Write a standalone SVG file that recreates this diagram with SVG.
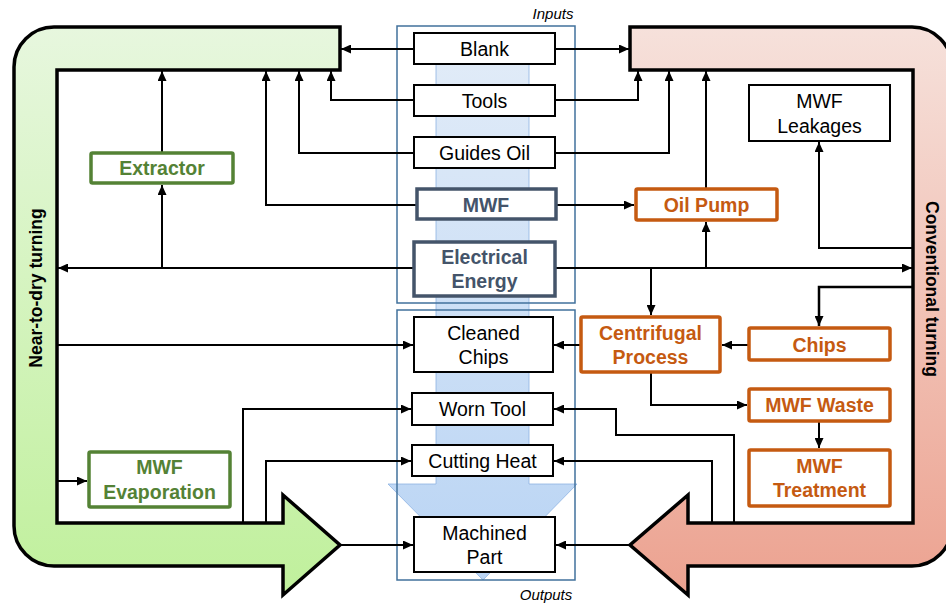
<svg xmlns="http://www.w3.org/2000/svg" width="946" height="603" viewBox="0 0 946 603">
<defs>
<linearGradient id="gG" x1="0" y1="0" x2="0" y2="1"><stop offset="0" stop-color="#e7f7de"/><stop offset="1" stop-color="#c0f09c"/></linearGradient>
<linearGradient id="gR" x1="0" y1="0" x2="0" y2="1"><stop offset="0" stop-color="#f6e1db"/><stop offset="1" stop-color="#eca290"/></linearGradient>
<linearGradient id="gB" x1="0" y1="0" x2="0" y2="1"><stop offset="0" stop-color="#e2ecf8"/><stop offset="1" stop-color="#b9d4f4"/></linearGradient>
<marker id="ah" viewBox="0 0 10 9" refX="10" refY="4.5" markerWidth="10" markerHeight="9" markerUnits="userSpaceOnUse" orient="auto"><path d="M0,0 L10,4.5 L0,9 z" fill="#000"/></marker>
<style>
.u{stroke:#000;stroke-width:3.5;stroke-linejoin:miter}
.bx{fill:#fff;stroke:#000;stroke-width:2}
.gb{fill:#fff;stroke:#548235;stroke-width:3.5}
.ob{fill:#fff;stroke:#c55a11;stroke-width:3.5}
.sb{fill:#fff;stroke:#44546a;stroke-width:3.5}
.t{font-family:"Liberation Sans",Arial,sans-serif;font-size:19.5px;text-anchor:middle;fill:#000}
.tb{font-family:"Liberation Sans",Arial,sans-serif;font-size:19.5px;font-weight:bold;text-anchor:middle}
.tg{fill:#548235}.to{fill:#c55a11}.ts{fill:#44546a}
.it{font-family:"Liberation Sans",Arial,sans-serif;font-size:15px;font-style:italic;text-anchor:middle;fill:#000}
.side{font-family:"Liberation Sans",Arial,sans-serif;font-size:17.5px;font-weight:bold;text-anchor:middle;fill:#000}
.c{fill:none;stroke:#000;stroke-width:2}
.ca{fill:none;stroke:#000;stroke-width:2;marker-end:url(#ah)}
.frame{fill:none;stroke:#41719c;stroke-width:1.5}
</style>
</defs>
<rect width="946" height="603" fill="#fff"/>

<g id="near-dry-turning">
<path class="u" fill="url(#gG)" d="M340,27 L54,27 A40,40 0 0 0 14,67 L14,526 A40,40 0 0 0 54,566 L283,566 L283,595 L340,545 L283,495 L283,523 L57,523 L57,70 L340,70 Z"/>
<text class="side" transform="translate(42,288) rotate(-90)">Near-to-dry turning</text>
</g>
<g id="conventional-turning">
<path class="u" fill="url(#gR)" d="M630,27 L912,27 A40,40 0 0 1 952,67 L952,526 A40,40 0 0 1 912,566 L688,566 L688,595 L630,545 L688,495 L688,523 L913,523 L913,70 L630,70 Z"/>
<text class="side" transform="translate(926,289) rotate(90)">Conventional turning</text>
</g>

<g id="flow-band">
<path d="M436,40 L529,40 L529,484 L577,484 L483,580 L388,484 L436,484 Z" fill="url(#gB)" stroke="#8db3e2" stroke-width="0.8"/>
<rect class="frame" x="397" y="26" width="178" height="277"/>
<rect class="frame" x="397" y="310" width="178" height="270"/>
<text class="it" x="553" y="19">Inputs</text>
<text class="it" x="546" y="600">Outputs</text>
</g>

<g id="connectors">
<path class="ca" d="M414,49 L341,49"/>
<path class="ca" d="M555,49 L629,49"/>
<path class="ca" d="M414,100 L331,100 L331,71"/>
<path class="ca" d="M555,100 L638,100 L638,71"/>
<path class="ca" d="M414,153 L299,153 L299,71"/>
<path class="ca" d="M555,153 L669,153 L669,71"/>
<path class="ca" d="M416,205 L266,205 L266,71"/>
<path class="ca" d="M557,205 L634,205"/>
<path class="ca" d="M706,188 L706,71"/>
<path class="ca" d="M413,268 L58,268"/>
<path class="ca" d="M162,268 L162,185"/>
<path class="ca" d="M162,152 L162,71"/>
<path class="ca" d="M556,268 L912,268"/>
<path class="ca" d="M706,268 L706,222"/>
<path class="ca" d="M651,268 L651,315"/>
<path class="ca" d="M913,248 L819,248 L819,142"/>
<path class="ca" style="stroke-width:2.5" d="M913,287 L819,287 L819,326"/>
<path class="ca" d="M748,345 L722,345"/>
<path class="ca" d="M580,345 L554,345"/>
<path class="ca" d="M651,373 L651,405 L747,405"/>
<path class="ca" d="M819,422 L819,448"/>
<path class="ca" d="M57,345 L413,345"/>
<path class="ca" d="M57,481 L87,481"/>
<path class="ca" d="M243,523 L243,409 L411,409"/>
<path class="ca" d="M266,523 L266,461 L411,461"/>
<path class="ca" d="M341,545 L413,545"/>
<path class="ca" d="M734,523 L734,435 L616,435 L616,409 L554,409"/>
<path class="ca" d="M712,523 L712,461 L554,461"/>
<path class="ca" d="M630,545 L556,545"/>
</g>

<g id="blank"><rect class="bx" x="414" y="33" width="141" height="31"/><text class="t" x="484.5" y="56">Blank</text></g>
<g id="tools"><rect class="bx" x="414" y="85" width="141" height="31"/><text class="t" x="484.5" y="108">Tools</text></g>
<g id="guides-oil"><rect class="bx" x="414" y="137" width="141" height="31"/><text class="t" x="484.5" y="160">Guides Oil</text></g>
<g id="mwf"><rect class="sb" x="417" y="189" width="139" height="30"/><text class="tb ts" x="486" y="212">MWF</text></g>
<g id="electrical-energy"><rect class="sb" x="414" y="242" width="141" height="54"/><text class="tb ts" x="484.5" y="264">Electrical</text><text class="tb ts" x="484.5" y="288">Energy</text></g>
<g id="cleaned-chips"><rect class="bx" x="414" y="317" width="139" height="55"/><text class="t" x="483.5" y="340">Cleaned</text><text class="t" x="483.5" y="364">Chips</text></g>
<g id="worn-tool"><rect class="bx" x="412" y="393" width="141" height="32"/><text class="t" x="482.5" y="416">Worn Tool</text></g>
<g id="cutting-heat"><rect class="bx" x="412" y="445" width="141" height="31"/><text class="t" x="482.5" y="468">Cutting Heat</text></g>
<g id="machined-part"><rect class="bx" x="414" y="517" width="141" height="55"/><text class="t" x="484.5" y="540">Machined</text><text class="t" x="484.5" y="564">Part</text></g>

<g id="extractor"><rect class="gb" x="91" y="153" width="142" height="30" rx="1.5"/><text class="tb tg" x="162" y="175">Extractor</text></g>
<g id="mwf-evaporation"><rect class="gb" x="89" y="452" width="141" height="55" rx="1.5"/><text class="tb tg" x="159.5" y="474">MWF</text><text class="tb tg" x="159.5" y="499">Evaporation</text></g>

<g id="oil-pump"><rect class="ob" x="636" y="189" width="141" height="31" rx="1.5"/><text class="tb to" x="706.5" y="212">Oil Pump</text></g>
<g id="mwf-leakages"><rect class="bx" x="749" y="85" width="141" height="56"/><text class="t" x="819.5" y="108">MWF</text><text class="t" x="819.5" y="133">Leakages</text></g>
<g id="centrifugal-process"><rect class="ob" x="581" y="317" width="139" height="55" rx="1.5"/><text class="tb to" x="650.5" y="340">Centrifugal</text><text class="tb to" x="650.5" y="364">Process</text></g>
<g id="chips"><rect class="ob" x="749" y="328" width="141" height="32" rx="1.5"/><text class="tb to" x="819.5" y="352">Chips</text></g>
<g id="mwf-waste"><rect class="ob" x="749" y="389" width="141" height="32" rx="1.5"/><text class="tb to" x="819.5" y="412">MWF Waste</text></g>
<g id="mwf-treatment"><rect class="ob" x="749" y="450" width="141" height="56" rx="1.5"/><text class="tb to" x="819.5" y="473">MWF</text><text class="tb to" x="819.5" y="497">Treatment</text></g>
</svg>
